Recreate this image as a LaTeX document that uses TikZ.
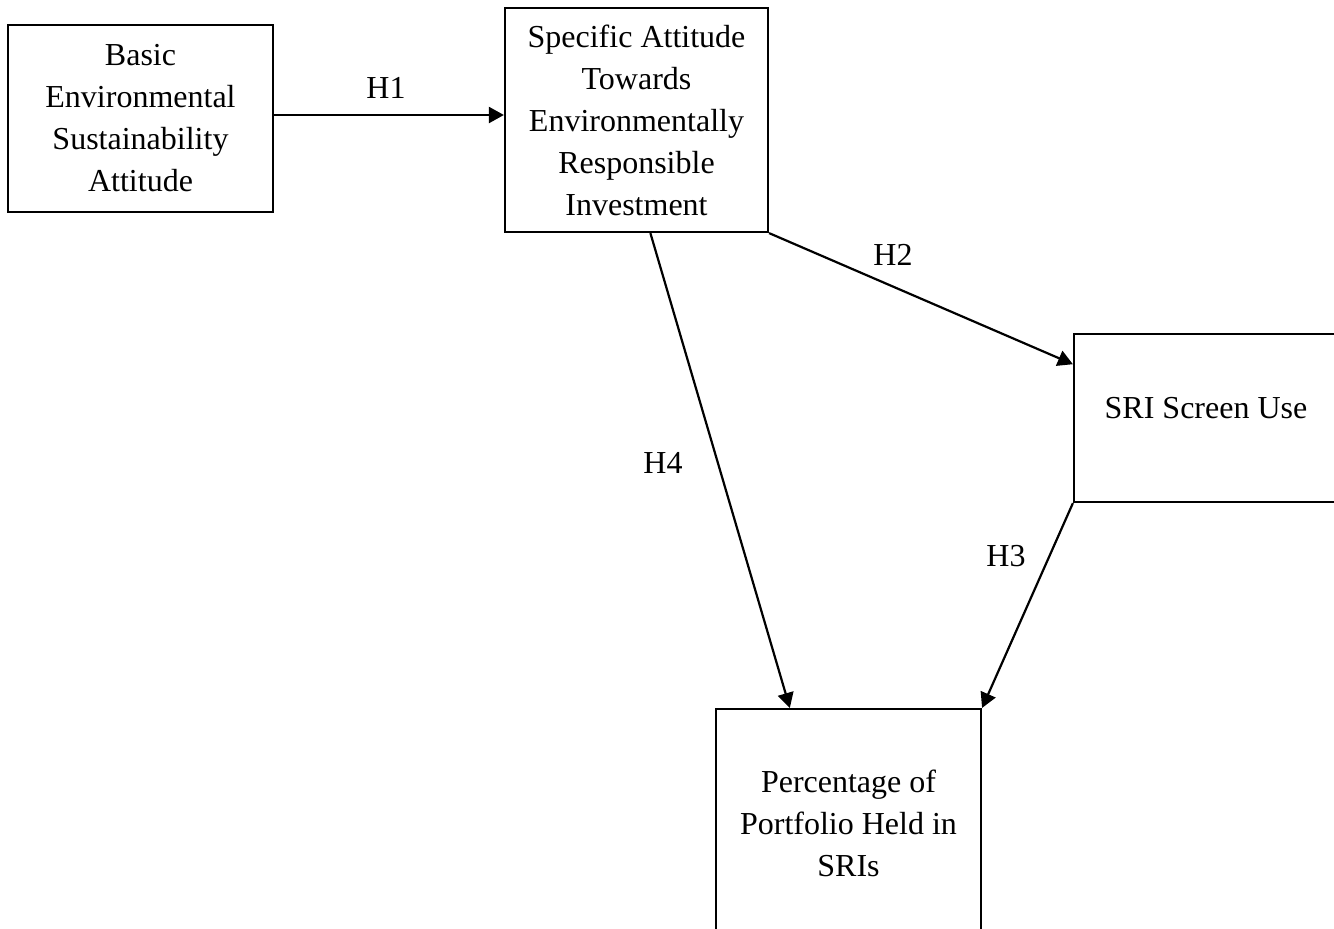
\documentclass[tikz,border=0pt]{standalone}
\usepackage{fontspec}
\setmainfont{Liberation Serif}
\usetikzlibrary{arrows.meta}

\begin{document}
\begin{tikzpicture}[x=0.5pt,y=-0.5pt,
  every node/.style={font=\fontsize{16}{21}\selectfont},
  varbox/.style={draw,line width=1.1pt,align=center,inner sep=0pt},
  hyp/.style={-{Triangle[length=7.5pt,width=8pt]},line width=1.1pt},
  hlabel/.style={inner sep=0pt}]
\useasboundingbox (0,0) rectangle (1334,928);
\clip (0,0) rectangle (1334,928);
\node[varbox,minimum width=132.5pt,minimum height=93.5pt] (basic) at (140.5,118.5)
  {Basic\\Environmental\\Sustainability\\Attitude};
\node[varbox,minimum width=131.5pt,minimum height=112pt] (specific) at (636.5,120)
  {Specific Attitude\\Towards\\Environmentally\\Responsible\\Investment};
\node[varbox,minimum width=132pt,minimum height=84pt,
  label={[yshift=5pt]center:SRI Screen Use}] (screen) at (1206,418) {};
\node[varbox,minimum width=132.5pt,minimum height=114pt] (portfolio) at (848.5,823)
  {Percentage of\\Portfolio Held in\\SRIs};
\draw[hyp] ([yshift=1.75pt]basic.east) -- ([yshift=1.75pt]basic.east -| specific.west);
\draw[hyp] (specific.south east) -- (screen.158);
\draw[hyp] (specific.-83) -- (portfolio.117);
\draw[hyp] (screen.south west) -- (portfolio.north east);
\node[hlabel] (h1) at (386,88) {H1};
\node[hlabel] (h2) at (893,255) {H2};
\node[hlabel] (h3) at (1006,556) {H3};
\node[hlabel] (h4) at (663,463) {H4};
\end{tikzpicture}
\end{document}
